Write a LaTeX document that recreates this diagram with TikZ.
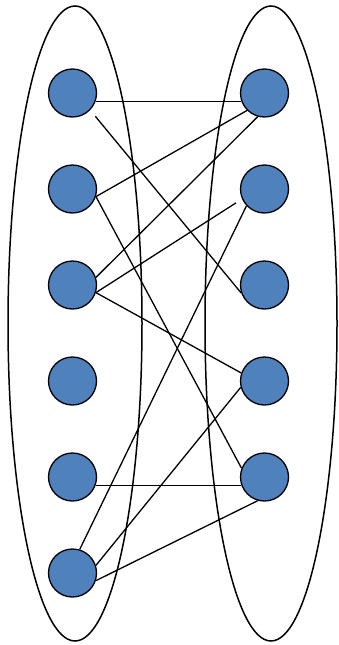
\documentclass[tikz,border=0pt]{standalone}
\definecolor{nodeblue}{HTML}{4F81BD}
\begin{document}
\begin{tikzpicture}[x=1pt,y=-1pt,
  vert/.style={circle,draw=black,line width=1.3pt,fill=nodeblue,minimum size=48pt,inner sep=0pt},
  part/.style={draw=black,line width=1.5pt},
  edge/.style={draw=black,line width=1.3pt}]
\useasboundingbox (0,0) rectangle (339,645);
\draw[part] (75,323.5) ellipse [x radius=67, y radius=317.5];
\draw[part] (271,323.5) ellipse [x radius=66, y radius=317.5];
\foreach \i/\y in {1/93,2/189,3/285,4/381,5/477,6/573}{
  \node[vert] (L\i) at (72.5,\y) {};
}
\foreach \i/\y in {1/93,2/189,3/285,4/381,5/477}{
  \node[vert] (R\i) at (264.5,\y) {};
}
\draw[edge] (L1.-20) -- (R1.200);
\draw[edge,shorten <=8pt] (L1.-44) -- (R3.199);
\draw[edge] (L2.-18) -- (R1.225);
\draw[edge] (L3.18) -- (R1.254);
\draw[edge,shorten >=7pt] (L3.-18) -- (R2.204);
\draw[edge] (L3.-18) -- (R4.161);
\draw[edge] (L2.-18) -- (R5.159);
\draw[edge] (L6.73) -- (R2.223);
\draw[edge] (L6.18) -- (R4.195);
\draw[edge] (L5.-20) -- (R5.200);
\draw[edge] (L6.-18) -- (R5.254);
\end{tikzpicture}
\end{document}
